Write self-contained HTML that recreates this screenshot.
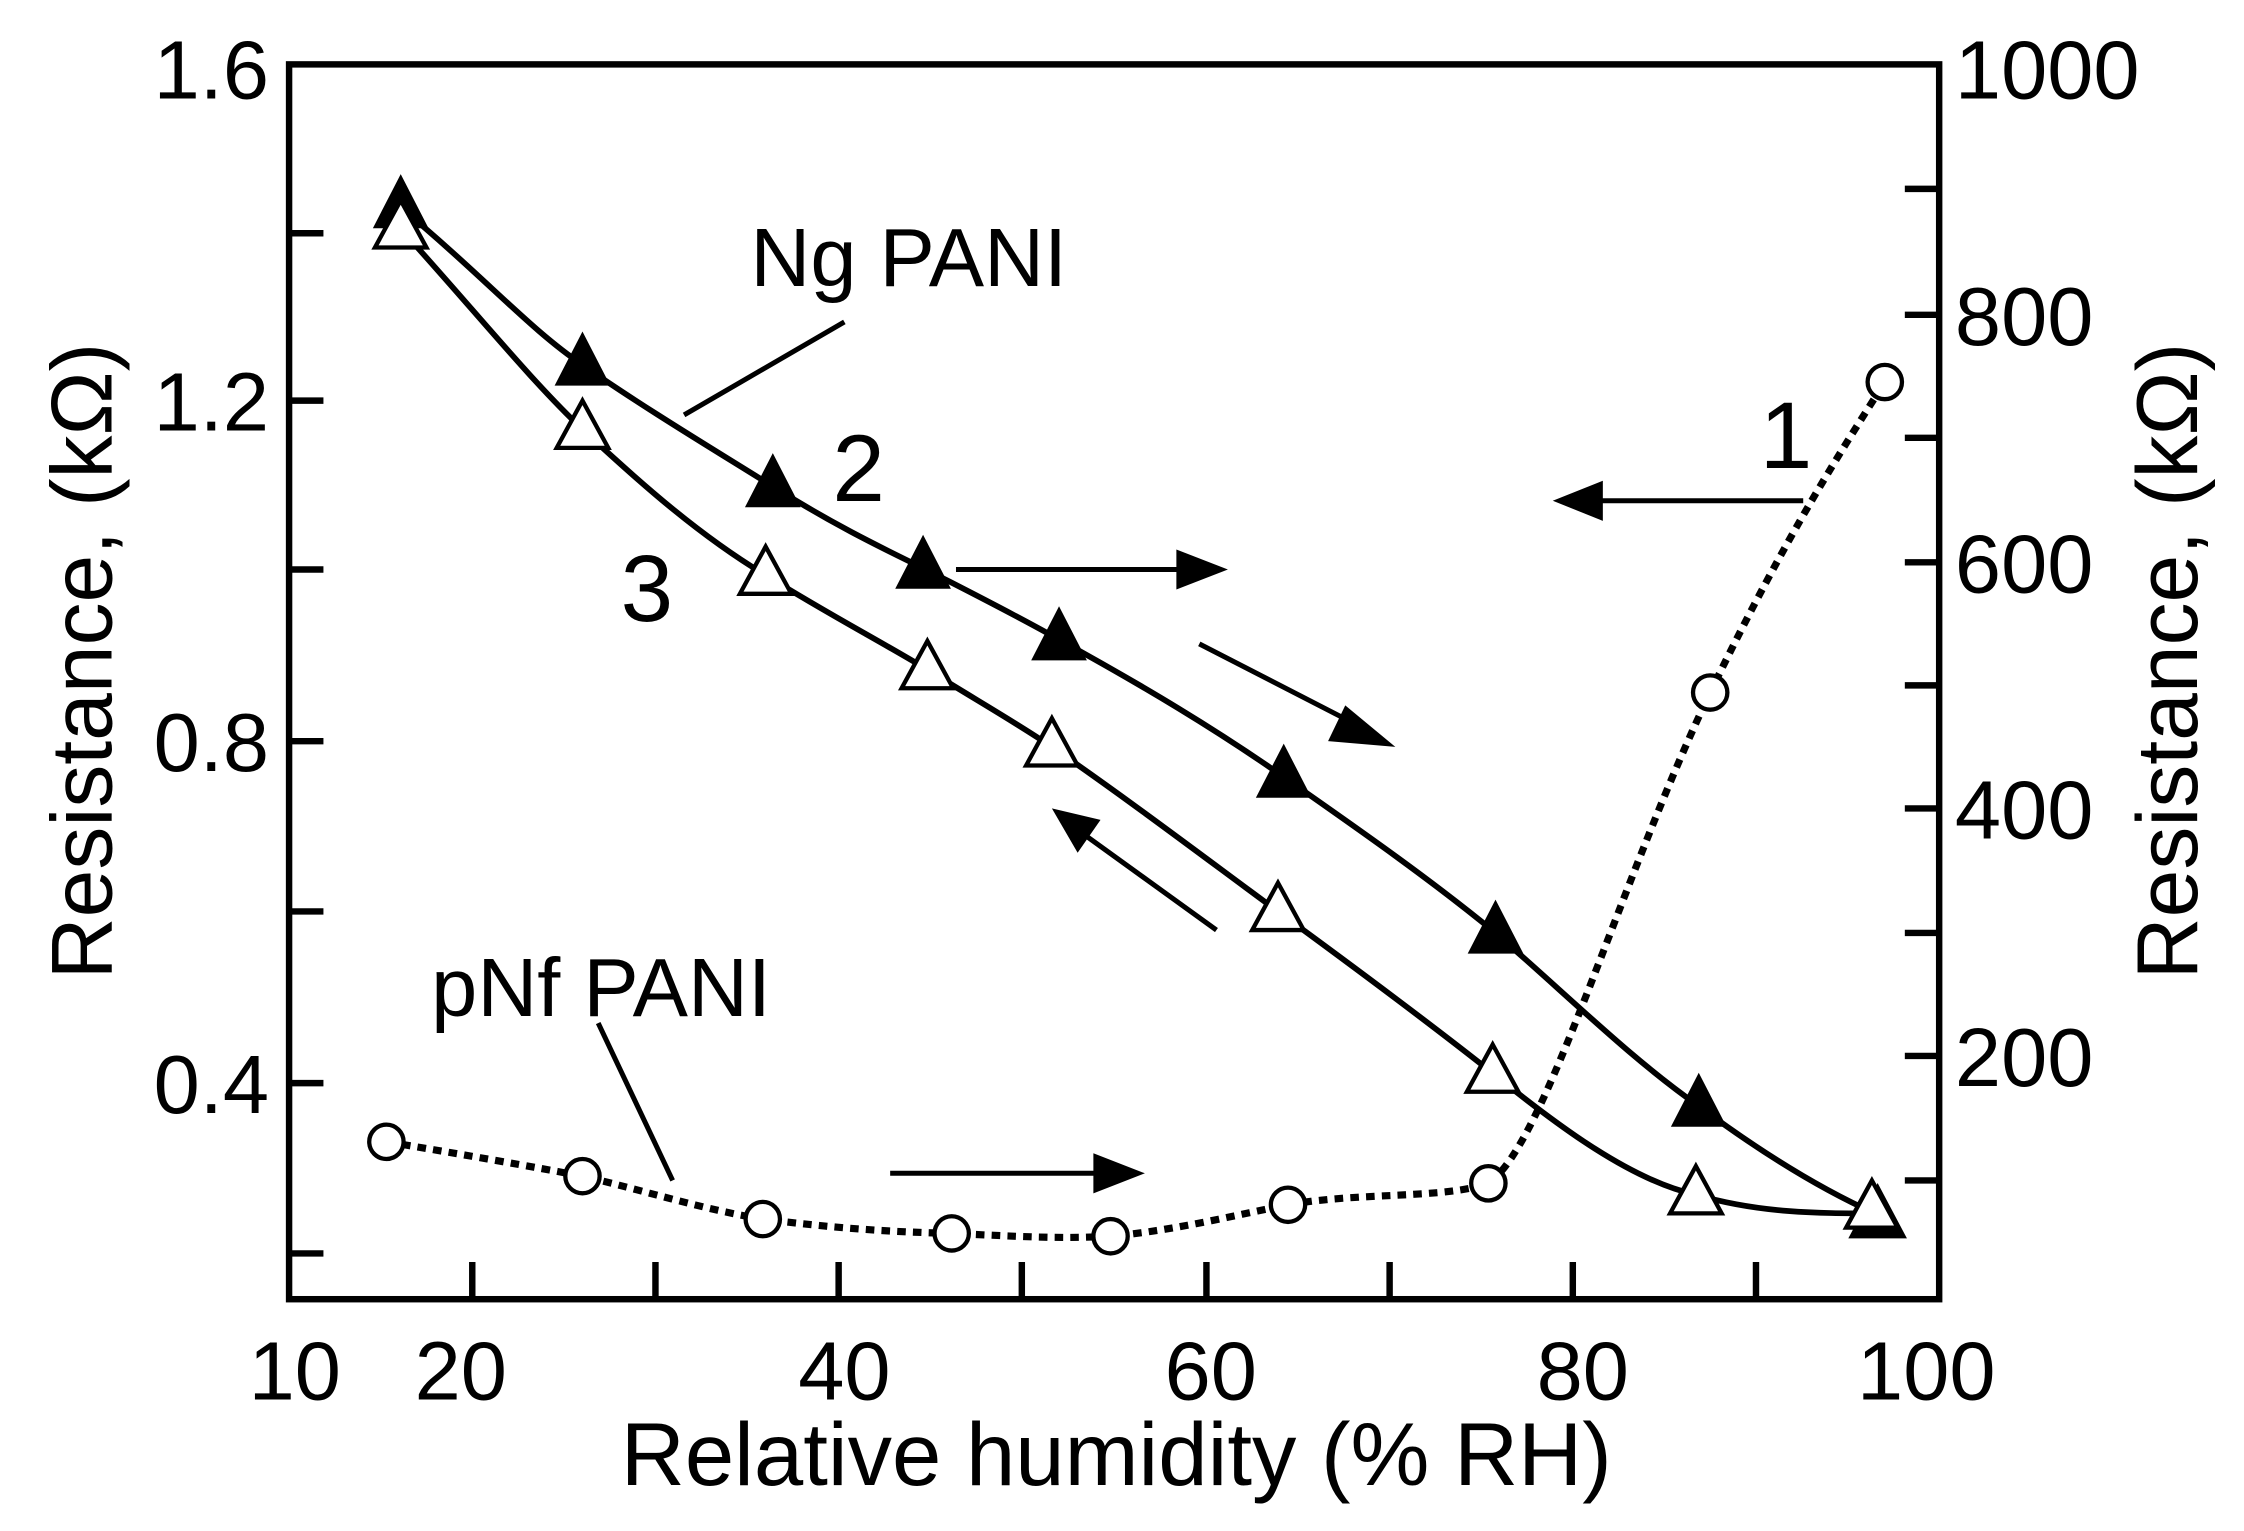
<!DOCTYPE html>
<html><head><meta charset="utf-8"><style>html,body{margin:0;padding:0;background:#fff}svg{display:block}</style></head>
<body>
<svg width="2244" height="1531" viewBox="0 0 1568 1070" preserveAspectRatio="none" xmlns="http://www.w3.org/2000/svg" font-family="Liberation Sans, sans-serif">
<rect x="202" y="45" width="1153" height="863" fill="none" stroke="#000" stroke-width="4.5"/>
<g stroke="#000" stroke-width="4.5">
<line x1="330" y1="908" x2="330" y2="882"/><line x1="458" y1="908" x2="458" y2="882"/><line x1="586" y1="908" x2="586" y2="882"/><line x1="714" y1="908" x2="714" y2="882"/><line x1="843" y1="908" x2="843" y2="882"/><line x1="971" y1="908" x2="971" y2="882"/><line x1="1099" y1="908" x2="1099" y2="882"/><line x1="1227" y1="908" x2="1227" y2="882"/>
<line x1="202" y1="163" x2="226" y2="163"/><line x1="202" y1="280" x2="226" y2="280"/><line x1="202" y1="398" x2="226" y2="398"/><line x1="202" y1="518" x2="226" y2="518"/><line x1="202" y1="637" x2="226" y2="637"/><line x1="202" y1="757" x2="226" y2="757"/><line x1="202" y1="876" x2="226" y2="876"/>
<line x1="1355" y1="132" x2="1331" y2="132"/><line x1="1355" y1="220" x2="1331" y2="220"/><line x1="1355" y1="306" x2="1331" y2="306"/><line x1="1355" y1="393" x2="1331" y2="393"/><line x1="1355" y1="479" x2="1331" y2="479"/><line x1="1355" y1="565" x2="1331" y2="565"/><line x1="1355" y1="652" x2="1331" y2="652"/><line x1="1355" y1="738" x2="1331" y2="738"/><line x1="1355" y1="825" x2="1331" y2="825"/>
</g>
<g font-size="58" text-anchor="middle">
<text x="206" y="978">10</text><text x="322" y="978">20</text><text x="590" y="978">40</text><text x="846" y="978">60</text><text x="1106" y="978">80</text><text x="1346" y="978">100</text>
</g>
<g font-size="58" text-anchor="end">
<text x="188" y="69">1.6</text><text x="188" y="301">1.2</text><text x="188" y="539">0.8</text><text x="188" y="778">0.4</text>
</g>
<g font-size="58" text-anchor="start">
<text x="1366" y="69">1000</text><text x="1366" y="241">800</text><text x="1366" y="414">600</text><text x="1366" y="586">400</text><text x="1366" y="759">200</text>
</g>
<text x="780" y="1038" font-size="62" text-anchor="middle">Relative humidity (% RH)</text>
<text transform="translate(78,462) rotate(-90)" font-size="60" text-anchor="middle">Resistance, (kΩ)</text>
<text transform="translate(1535,462) rotate(-90)" font-size="60" text-anchor="middle">Resistance, (kΩ)</text>
<g fill="none" stroke="#000" stroke-width="4">
<path d="M280,145 C340,195 370,230 407,255 C450,285 500,315 540,340 C580,365 610,380 645,397 C680,415 710,430 740,447 C800,480 850,510 897,543 C950,580 1000,615 1045,652 C1100,700 1140,740 1187,773 C1230,805 1270,830 1310,848"/>
<path d="M280,160 C330,215 370,265 407,300 C450,340 490,375 535,402 C580,430 615,448 648,468 C680,488 710,505 735,522 C790,560 840,598 893,637 C945,675 995,712 1043,750 C1090,788 1140,825 1185,835 C1230,848 1270,848 1310,848"/>
<path d="M270,798 C330,808 370,815 407,822 C450,832 490,845 533,852 C580,858 620,861 665,862 C710,864 740,866 776,864 C820,860 860,850 900,842 C950,833 1010,838 1040,827 C1080,800 1130,620 1195,484 C1250,370 1290,310 1317,267" stroke-dasharray="6,5" stroke-width="5"/>
</g>
<g fill="#000" stroke="#000" stroke-width="3">
<polygon points="280,125 263,158 297,158"/><polygon points="407,235 390,268 424,268"/><polygon points="540,320 523,353 557,353"/><polygon points="645,377 628,410 662,410"/><polygon points="740,427 723,460 757,460"/><polygon points="897,523 880,556 914,556"/><polygon points="1045,632 1028,665 1062,665"/><polygon points="1187,753 1170,786 1204,786"/><polygon points="1312,830 1294,864 1330,864"/>
</g>
<g fill="#fff" stroke="#000" stroke-width="3">
<polygon points="280,140 262,173 298,173"/><polygon points="407,280 389,313 425,313"/><polygon points="535,382 517,415 553,415"/><polygon points="648,448 630,481 666,481"/><polygon points="735,502 717,535 753,535"/><polygon points="893,617 875,650 911,650"/><polygon points="1043,730 1025,763 1061,763"/><polygon points="1185,815 1167,848 1203,848"/><polygon points="1308,825 1290,858 1326,858"/>
<circle cx="270" cy="798" r="12"/><circle cx="407" cy="822" r="12"/><circle cx="533" cy="852" r="12"/><circle cx="665" cy="862" r="12"/><circle cx="776" cy="864" r="12"/><circle cx="900" cy="842" r="12"/><circle cx="1040" cy="827" r="12"/><circle cx="1195" cy="484" r="12"/><circle cx="1317" cy="267" r="12"/>
</g>
<g stroke="#000" stroke-width="3.5">
<line x1="668" y1="398" x2="825" y2="398"/><line x1="838" y1="450" x2="945" y2="505"/><line x1="850" y1="650" x2="760" y2="585"/><line x1="1260" y1="350" x2="1115" y2="350"/><line x1="622" y1="820" x2="770" y2="820"/>
<line x1="590" y1="225" x2="478" y2="290"/><line x1="418" y1="715" x2="470" y2="825"/>
</g>
<g fill="#000">
<polygon points="858,398 822,384 822,412"/>
<polygon points="975,522 940,493 928,518"/>
<polygon points="735,565 769,573 753,596"/>
<polygon points="1085,350 1120,336 1120,364"/>
<polygon points="800,820 764,806 764,834"/>
</g>
<text x="635" y="200" font-size="58" text-anchor="middle">Ng PANI</text>
<text x="420" y="710" font-size="58" text-anchor="middle">pNf PANI</text>
<text x="600" y="350" font-size="66" text-anchor="middle">2</text>
<text x="452" y="434" font-size="66" text-anchor="middle">3</text>
<text x="1248" y="327" font-size="66" text-anchor="middle">1</text>
</svg>
</body></html>
